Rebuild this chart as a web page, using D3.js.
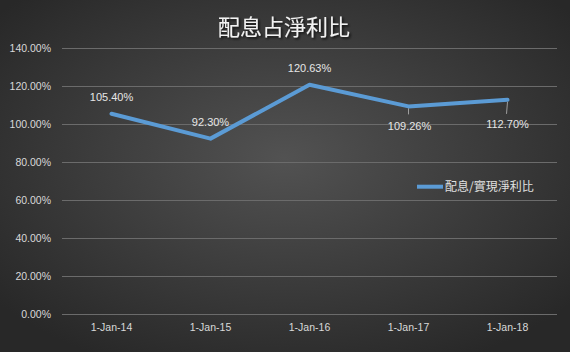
<!DOCTYPE html>
<html><head><meta charset="utf-8">
<script src="https://cdn.jsdelivr.net/npm/d3@7"></script>
<style>html,body{margin:0;padding:0;background:#2a2a2a;}svg{display:block;}</style>
</head><body>
<script>
const categories = ["1-Jan-14","1-Jan-15","1-Jan-16","1-Jan-17","1-Jan-18"];
const values = [105.40, 92.30, 120.63, 109.26, 112.70];
const valueLabels = ["105.40%","92.30%","120.63%","109.26%","112.70%"];
const labelPos = ["above","above","above","below","below"];
const yTicks = [0,20,40,60,80,100,120,140];
const seriesName = "配息/實現淨利比";
const title = "配息占淨利比";

const W = 570, H = 352;
const svg = d3.select("body").append("svg").attr("width", W).attr("height", H);
const defs = svg.append("defs");
const rg = defs.append("radialGradient").attr("id","bg").attr("cx","50%").attr("cy","45%").attr("r","65%");
rg.append("stop").attr("offset","0%").attr("stop-color","#525252");
rg.append("stop").attr("offset","100%").attr("stop-color","#282828");
const f = defs.append("filter").attr("id","sh").attr("x","-10%").attr("y","-20%").attr("width","130%").attr("height","150%");
f.append("feDropShadow").attr("dx",1.5).attr("dy",1.5).attr("stdDeviation",1).attr("flood-color","#000").attr("flood-opacity",0.8);

svg.append("rect").attr("width",W).attr("height",H).attr("fill","url(#bg)");

const font = "'Liberation Sans', Arial, sans-serif";
const x = d3.scaleBand().domain(categories).range([62, 557]);
const y = d3.scaleLinear().domain([0,140]).range([314, 48]);

// gridlines
svg.append("g").selectAll("line").data(yTicks).join("line")
  .attr("x1",62).attr("x2",557).attr("y1",d=>y(d)).attr("y2",d=>y(d))
  .attr("stroke","#6b6b6b").attr("stroke-width",1).attr("shape-rendering","crispEdges");

// y axis labels
const yAxis = d3.axisLeft(y).tickValues(yTicks).tickSize(0).tickPadding(0).tickFormat(d=>d.toFixed(2)+"%");
const gy = svg.append("g").attr("transform","translate(51,0)").call(yAxis);
gy.select(".domain").remove();
gy.selectAll("text").attr("fill","#d9d9d9").attr("font-family",font).attr("font-size","10.5px");

// x axis labels
const xAxis = d3.axisBottom(x).tickSize(0).tickPadding(0);
const gx = svg.append("g").attr("transform","translate(0,324)").call(xAxis);
gx.select(".domain").remove();
gx.selectAll("text").attr("fill","#d9d9d9").attr("font-family",font).attr("font-size","10.5px");

// line
const cx = i => x(categories[i]) + x.bandwidth()/2;
const line = d3.line().x((d,i)=>cx(i)).y(d=>y(d));
svg.append("path").datum(values).attr("d",line).attr("fill","none")
  .attr("stroke","#5b9bd5").attr("stroke-width",4).attr("stroke-linejoin","round").attr("stroke-linecap","round");

// leader lines for below labels
const lg = svg.append("g");
values.forEach((v,i)=>{
  if(labelPos[i]==="below"){
    lg.append("line").attr("x1",cx(i)).attr("y1",y(v)+2).attr("x2",cx(i)- (i===4?1:0)).attr("y2",y(v)+(i===4?14:8))
      .attr("stroke","#b8b8b8").attr("stroke-width",0.8);
  }
});

// data labels
svg.append("g").selectAll("text").data(values).join("text")
  .attr("x",(d,i)=>cx(i)+ (i===3?1:0))
  .attr("y",(d,i)=> labelPos[i]==="above" ? y(d) - 13 : y(d) + (i===4?28:24))
  .attr("text-anchor","middle")
  .attr("fill","#e6e6e6").attr("font-family",font).attr("font-size","11px")
  .text((d,i)=>valueLabels[i]);

// legend
svg.append("line").attr("x1",417).attr("x2",443).attr("y1",y(67)).attr("y2",y(67))
  .attr("stroke","#5b9bd5").attr("stroke-width",4);
svg.append("text").attr("x",445).attr("y",y(67)+4).attr("fill","#e0e0e0")
  .attr("font-family","'Noto Sans CJK TC', sans-serif").attr("font-size","12px").text(seriesName);

// title
svg.append("text").attr("x",284).attr("y",35).attr("text-anchor","middle")
  .attr("fill","#f2f2f2").attr("font-family","'Noto Sans CJK TC', sans-serif").attr("font-size","22px")
  .attr("filter","url(#sh)").text(title);
</script>
</body></html>
